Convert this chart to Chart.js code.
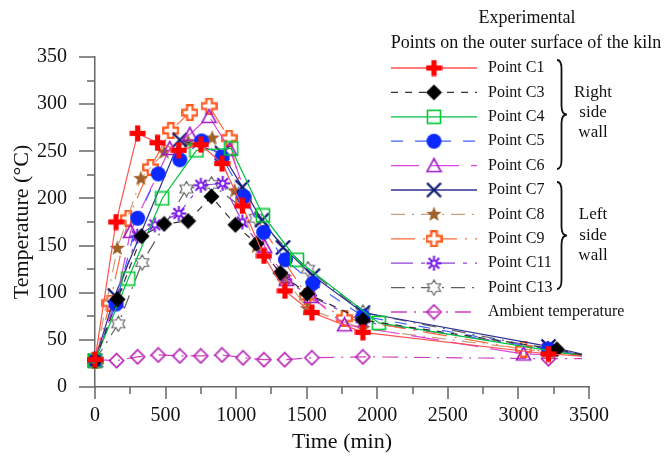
<!DOCTYPE html>
<html>
<head>
<meta charset="utf-8">
<script src="https://cdn.jsdelivr.net/npm/chart.js@4.4.1/dist/chart.umd.min.js"></script>
<style>
    html, body { margin: 0; padding: 0; background: #fff; }
</style>
</head>
<body>
<canvas id="myChart" width="668" height="464"></canvas>
<script>
// readings: [time (min), temperature (°C)]
var c1 = [[0, 29], [149, 175], [302, 269], [443, 259], [594, 251], [750, 257], [900, 237], [1044, 192], [1197, 139], [1346, 102], [1537, 79], [1898, 58], [3213, 35], [3450, 33]];
var c3 = [[0, 28], [160, 93], [330, 160], [490, 173], [660, 176], [825, 202], [995, 172], [1143, 152], [1313, 121], [1504, 99], [1898, 71], [3272, 40], [3450, 34]];
var c4 = [[0, 28], [236, 115], [476, 200], [719, 251], [965, 253], [1190, 182], [1431, 135], [2011, 68], [3450, 33]];
var c5 = [[0, 28], [149, 88], [302, 179], [448, 226], [601, 241], [755, 261], [900, 244], [1054, 202], [1195, 164], [1349, 135], [1544, 110], [1898, 75], [3213, 40], [3450, 34]];
var c6 = [[0, 28], [150, 91], [252, 165], [530, 253], [672, 268], [808, 287], [955, 252], [1202, 149], [1356, 114], [1532, 96], [1768, 66], [3036, 35], [3450, 33]];
var c7 = [[0, 28], [141, 97], [601, 262], [900, 248], [1044, 212], [1183, 177], [1332, 148], [1544, 118], [1898, 79], [3213, 43], [3450, 35]];
var c8 = [[0, 28], [158, 147], [325, 221], [490, 249], [660, 260], [830, 264], [990, 208], [1143, 149], [1344, 116], [1504, 83], [1898, 62], [3213, 37], [3450, 33]];
var c9 = [[0, 28], [106, 89], [236, 179], [394, 233], [537, 272], [672, 291], [808, 298], [950, 264], [1054, 199], [1504, 96], [1768, 73], [3036, 40], [3450, 34]];
var c11 = [[0, 28], [299, 160], [424, 172], [594, 184], [750, 214], [905, 216], [1044, 175], [1344, 114], [1520, 97], [1898, 69], [3207, 41], [3450, 33]];
var c13 = [[0, 28], [165, 67], [334, 132], [648, 210], [825, 215], [1140, 179], [1509, 125], [1898, 79], [3213, 40], [3450, 34]];
var ambient = [[0, 29], [153, 28], [302, 32], [448, 34], [601, 33], [750, 33], [900, 34], [1049, 31], [1197, 29], [1344, 29], [1537, 31], [1898, 32], [3213, 30], [3450, 30]];

var labels = ['Point C1', 'Point C3', 'Point C4', 'Point C5', 'Point C6', 'Point C7', 'Point C8', 'Point C9', 'Point C11', 'Point C13', 'Ambient temperature'];
var xRange = [0, 3500], xStep = 500, xMinor = 250;
var yRange = [0, 350], yStep = 50, yMinor = 25;

var serif = '"Liberation Serif", "Times New Roman", serif';

// marker images
function mark(size, draw) {
    var c = document.createElement('canvas');
    c.width = size;
    c.height = size;
    var g = c.getContext('2d');
    g.translate(size / 2, size / 2);
    draw(g);
    return c;
}

var mkPlus = mark(17, function (g) {
    g.fillStyle = '#ff0000';
    g.fillRect(-8, -2.6, 16, 5.2);
    g.fillRect(-2.6, -8, 5.2, 16);
});
var mkDiamond = mark(17, function (g) {
    g.fillStyle = '#000';
    g.beginPath();
    g.moveTo(0, -8); g.lineTo(8, 0); g.lineTo(0, 8); g.lineTo(-8, 0);
    g.closePath();
    g.fill();
});
var mkSquare = mark(16, function (g) {
    g.strokeStyle = '#00c832';
    g.lineWidth = 1.6;
    g.strokeRect(-6.5, -6.5, 13, 13);
});
var mkCircle = mark(17, function (g) {
    g.fillStyle = '#0a28ff';
    g.beginPath();
    g.arc(0, 0, 7.5, 0, Math.PI * 2);
    g.fill();
});
var mkTriangle = mark(17, function (g) {
    g.strokeStyle = '#a21cc8';
    g.lineWidth = 1.6;
    g.beginPath();
    g.moveTo(0, -7); g.lineTo(7, 6); g.lineTo(-7, 6);
    g.closePath();
    g.stroke();
});
var mkX = mark(17, function (g) {
    g.strokeStyle = '#0d1b72';
    g.lineWidth = 2.4;
    g.beginPath();
    g.moveTo(-7, -7); g.lineTo(7, 7);
    g.moveTo(7, -7); g.lineTo(-7, 7);
    g.stroke();
});
var mkStar = mark(17, function (g) {
    g.fillStyle = '#a0602a';
    g.beginPath();
    for (var i = 0; i < 10; i++) {
        var r = i % 2 ? 3.4 : 8;
        var a = -Math.PI / 2 + i * Math.PI / 5;
        g.lineTo(r * Math.cos(a), r * Math.sin(a));
    }
    g.closePath();
    g.fill();
});
var mkOpenPlus = mark(17, function (g) {
    var a = 2.8, b = 7.3;
    g.strokeStyle = '#ff5a1e';
    g.fillStyle = '#fff';
    g.lineWidth = 2.2;
    g.beginPath();
    g.moveTo(-a, -b); g.lineTo(a, -b); g.lineTo(a, -a); g.lineTo(b, -a);
    g.lineTo(b, a); g.lineTo(a, a); g.lineTo(a, b); g.lineTo(-a, b);
    g.lineTo(-a, a); g.lineTo(-b, a); g.lineTo(-b, -a); g.lineTo(-a, -a);
    g.closePath();
    g.fill();
    g.stroke();
});
var mkAster = mark(17, function (g) {
    g.strokeStyle = '#7412e6';
    g.lineWidth = 2;
    g.beginPath();
    for (var i = 0; i < 4; i++) {
        var a = i * Math.PI / 4;
        g.moveTo(-7.5 * Math.cos(a), -7.5 * Math.sin(a));
        g.lineTo(7.5 * Math.cos(a), 7.5 * Math.sin(a));
    }
    g.stroke();
    g.fillStyle = '#fff';
    g.lineWidth = 1.4;
    g.beginPath();
    g.arc(0, 0, 2.6, 0, Math.PI * 2);
    g.fill();
    g.stroke();
});
var mkHexStar = mark(17, function (g) {
    g.strokeStyle = '#606060';
    g.lineWidth = 1.1;
    g.fillStyle = '#fff';
    g.beginPath();
    for (var i = 0; i < 12; i++) {
        var r = i % 2 ? 4.4 : 7.6;
        var a = -Math.PI / 2 + i * Math.PI / 6;
        g.lineTo(r * Math.cos(a), r * Math.sin(a));
    }
    g.closePath();
    g.fill();
    g.stroke();
});
var mkOpenDiamond = mark(17, function (g) {
    g.strokeStyle = '#b41eb4';
    g.lineWidth = 1.6;
    g.beginPath();
    g.moveTo(0, -7); g.lineTo(7, 0); g.lineTo(0, 7); g.lineTo(-7, 0);
    g.closePath();
    g.stroke();
});

function series(label, values, color, dash, marker) {
    return {
        label: label,
        data: values.map(function (p) { return { x: p[0], y: p[1] }; }),
        borderColor: color,
        borderWidth: 1.2,
        borderDash: dash,
        pointStyle: marker,
        // no marker on the tail end of each record
        pointRadius: function (c) { return c.raw && c.raw.x > 3400 ? 0 : 6; },
        tension: 0,
        fill: false,
        clip: false
    };
}

// small axis ticks (major + minor)
var tickPlugin = {
    id: 'axisTicks',
    afterDraw: function (chart) {
        var ctx = chart.ctx;
        var xs = chart.scales.x, ys = chart.scales.y;
        var left = chart.chartArea.left, bottom = chart.chartArea.bottom;
        ctx.save();
        ctx.strokeStyle = '#666';
        ctx.lineWidth = 1.5;
        ctx.beginPath();
        for (var v = yRange[0]; v <= yRange[1]; v += yMinor) {
            var py = Math.round(ys.getPixelForValue(v));
            var len = v % yStep === 0 ? 16 : 8;
            ctx.moveTo(left - len, py);
            ctx.lineTo(left, py);
        }
        for (var t = xRange[0]; t <= xRange[1]; t += xMinor) {
            var px = Math.round(xs.getPixelForValue(t));
            var l2 = t % xStep === 0 ? 12 : 7;
            ctx.moveTo(px, bottom);
            ctx.lineTo(px, bottom + l2);
        }
        ctx.stroke();
        ctx.restore();
    }
};

function brace(ctx, x, y1, y2, w) {
    var ym = (y1 + y2) / 2;
    ctx.beginPath();
    ctx.moveTo(x, y1);
    ctx.quadraticCurveTo(x + w, y1, x + w, y1 + w * 2);
    ctx.lineTo(x + w, ym - w * 2);
    ctx.quadraticCurveTo(x + w, ym, x + w * 2.2, ym);
    ctx.quadraticCurveTo(x + w, ym, x + w, ym + w * 2);
    ctx.lineTo(x + w, y2 - w * 2);
    ctx.quadraticCurveTo(x + w, y2, x, y2);
    ctx.stroke();
}

// legend with braces, drawn over the plot like the original
var legendPlugin = {
    id: 'kilnLegend',
    afterDraw: function (chart) {
        var ctx = chart.ctx;
        ctx.save();
        ctx.fillStyle = '#111';
        ctx.textBaseline = 'middle';
        ctx.textAlign = 'center';
        ctx.font = '18px ' + serif;
        ctx.fillText('Experimental', 527, 18);
        ctx.fillText('Points on the outer surface of the kiln', 526, 43);

        chart.data.datasets.forEach(function (ds, i) {
            var y = 68 + i * 24.4;
            ctx.strokeStyle = ds.borderColor;
            ctx.lineWidth = 1.3;
            ctx.setLineDash(ds.borderDash || []);
            ctx.beginPath();
            ctx.moveTo(391, y);
            ctx.lineTo(477, y);
            ctx.stroke();
            ctx.setLineDash([]);
            var img = ds.pointStyle;
            ctx.drawImage(img, 434 - img.width / 2, y - img.height / 2);
            ctx.textAlign = 'left';
            ctx.font = '16px ' + serif;
            ctx.fillStyle = '#111';
            ctx.fillText(ds.label, 488, y);
        });

        ctx.strokeStyle = '#111';
        ctx.lineWidth = 1.8;
        brace(ctx, 557, 60, 169, 4.5);
        brace(ctx, 557, 182, 289, 4.5);

        ctx.textAlign = 'center';
        ctx.font = '17px ' + serif;
        ctx.fillText('Right', 593, 93);
        ctx.fillText('side', 593, 113);
        ctx.fillText('wall', 593, 133);
        ctx.fillText('Left', 593, 215);
        ctx.fillText('side', 593, 236);
        ctx.fillText('wall', 593, 256);
        ctx.restore();
    }
};

var ctx = document.getElementById('myChart').getContext('2d');

var myChart = new Chart(ctx, {
    type: 'line',
    data: {
        datasets: [
            series(labels[0], c1, '#ff5050', [], mkPlus),
            series(labels[1], c3, '#333333', [7, 7], mkDiamond),
            series(labels[2], c4, '#00c040', [], mkSquare),
            series(labels[3], c5, '#4060ff', [12, 12], mkCircle),
            series(labels[4], c6, '#dd44dd', [28, 12], mkTriangle),
            series(labels[5], c7, '#303090', [], mkX),
            series(labels[6], c8, '#c8a080', [14, 7, 2, 7], mkStar),
            series(labels[7], c9, '#ff6a3a', [24, 8, 2, 8], mkOpenPlus),
            series(labels[8], c11, '#9040e0', [22, 8, 4, 8], mkAster),
            series(labels[9], c13, '#606060', [14, 7, 2, 7], mkHexStar),
            series(labels[10], ambient, '#d040c0', [16, 7, 2, 7], mkOpenDiamond)
        ]
    },
    options: {
        responsive: false,
        animation: false,
        layout: {
            padding: { top: 57, right: 79, left: 0, bottom: 0 }
        },
        plugins: {
            legend: { display: false },
            tooltip: { enabled: false }
        },
        scales: {
            x: {
                type: 'linear',
                min: xRange[0],
                max: xRange[1],
                grid: { display: false },
                border: { display: true, color: '#666', width: 1.5 },
                ticks: {
                    stepSize: xStep,
                    padding: 9,
                    maxRotation: 0,
                    color: '#111',
                    font: { family: serif, size: 20 },
                    callback: function (v) { return String(v); }
                },
                title: {
                    display: true,
                    text: 'Time (min)',
                    color: '#111',
                    font: { family: serif, size: 22 },
                    padding: { top: 0, bottom: 9 }
                },
                afterFit: function (scale) { scale.height = 77; }
            },
            y: {
                min: yRange[0],
                max: yRange[1],
                grid: { display: false },
                border: { display: true, color: '#666', width: 1.5 },
                ticks: {
                    stepSize: yStep,
                    padding: 20,
                    color: '#111',
                    font: { family: serif, size: 20 },
                    callback: function (v) { return String(v); }
                },
                title: {
                    display: true,
                    text: 'Temperature (°C)',
                    color: '#111',
                    font: { family: serif, size: 22 },
                    padding: { top: 9, bottom: 0 }
                },
                afterFit: function (scale) { scale.width = 95; }
            }
        }
    },
    plugins: [tickPlugin, legendPlugin]
});
</script>
</body>
</html>
